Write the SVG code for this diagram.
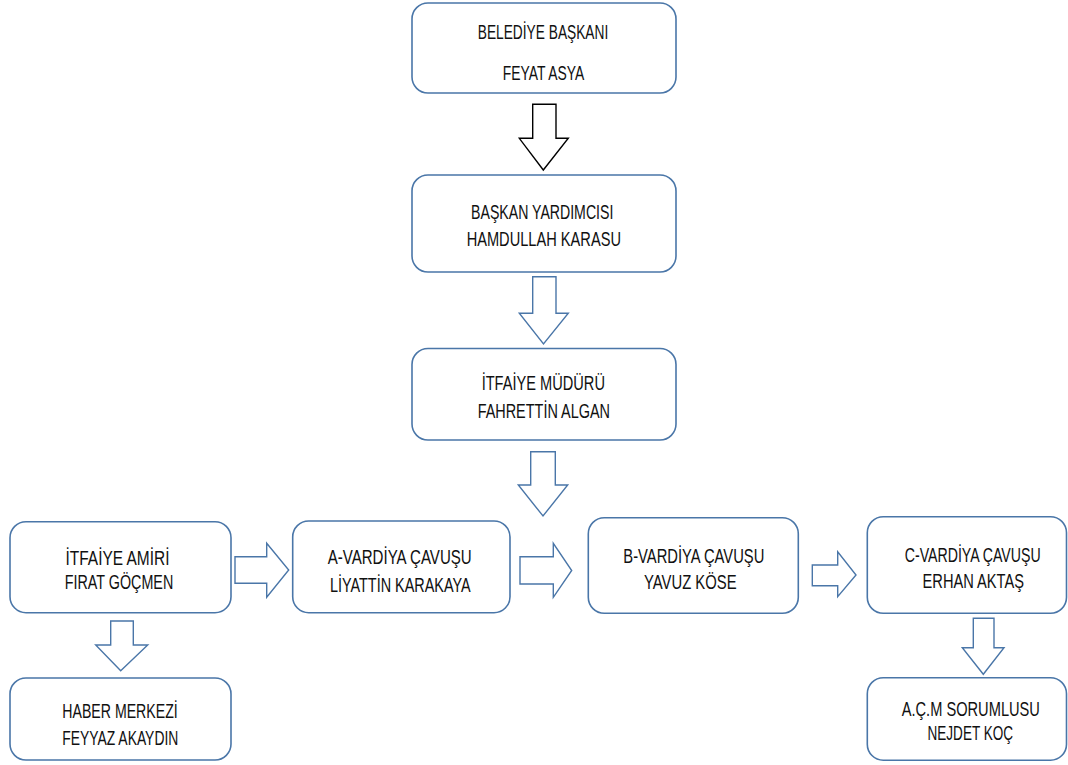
<svg xmlns="http://www.w3.org/2000/svg" width="1068" height="765" viewBox="0 0 1068 765">
  <style>
    .box { fill: #ffffff; stroke: #4a76a8; stroke-width: 1.6; }
    .arrow { fill: #ffffff; stroke: #4a76a8; stroke-width: 1.4; stroke-linejoin: miter; }
    .arrow-dark { fill: #ffffff; stroke: #000000; stroke-width: 1.4; stroke-linejoin: miter; }
    .label { font-family: "Liberation Sans", Arial, sans-serif; font-size: 19.5px; fill: #111111; text-anchor: middle; }
  </style>
  <rect width="1068" height="765" fill="#ffffff"/>

  <!-- connectors: block arrows -->
  <g id="connectors">
    <polygon class="arrow-dark" points="532.7,104.3 556,104.3 556,138.3 568.3,138.3 543.3,170 519.3,138.3 532.7,138.3"/>
    <polygon class="arrow" points="532.7,276.7 556,276.7 556,313.3 568.3,313.3 543.5,344 519.3,313.3 532.7,313.3"/>
    <polygon class="arrow" points="530.7,451.7 555.3,451.7 555.3,485 567.7,485 543,516 518.3,485 530.7,485"/>
    <polygon class="arrow" points="235,556.7 266.7,556.7 266.7,543.3 288.7,570 266.7,597.3 266.7,583.3 235,583.3"/>
    <polygon class="arrow" points="520,556.7 553.3,556.7 553.3,543.3 571.7,570.5 553.3,597.3 553.3,584 520,584"/>
    <polygon class="arrow" points="812.3,565 837.7,565 837.7,551.7 856,575 837.7,596.7 837.7,585.7 812.3,585.7"/>
    <polygon class="arrow" points="110.7,621 133.3,621 133.3,645 147.7,645 120.7,670.7 95.7,645 110.7,645"/>
    <polygon class="arrow" points="973.3,618.3 994,618.3 994,647.7 1004,647.7 983.3,674.3 962.3,647.7 973.3,647.7"/>
  </g>

  <g id="belediye-baskani">
    <rect class="box" x="412" y="3" width="264" height="90" rx="16"/>
    <text class="label" x="543" y="38.5" textLength="130.5" lengthAdjust="spacingAndGlyphs">BELEDİYE BAŞKANI</text>
    <text class="label" x="543.5" y="80" textLength="81.5" lengthAdjust="spacingAndGlyphs">FEYAT ASYA</text>
  </g>

  <g id="baskan-yardimcisi">
    <rect class="box" x="412" y="175" width="264" height="97" rx="16"/>
    <text class="label" x="542.2" y="219.3" textLength="142.3" lengthAdjust="spacingAndGlyphs">BAŞKAN YARDIMCISI</text>
    <text class="label" x="543.8" y="245.5" textLength="154.3" lengthAdjust="spacingAndGlyphs">HAMDULLAH KARASU</text>
  </g>

  <g id="itfaiye-muduru">
    <rect class="box" x="412" y="348.5" width="264" height="91.5" rx="16"/>
    <text class="label" x="543.3" y="390.3" textLength="123.3" lengthAdjust="spacingAndGlyphs">İTFAİYE MÜDÜRÜ</text>
    <text class="label" x="543.8" y="417.5" textLength="132.3" lengthAdjust="spacingAndGlyphs">FAHRETTİN ALGAN</text>
  </g>

  <g id="itfaiye-amiri">
    <rect class="box" x="10" y="521.7" width="221" height="91" rx="16"/>
    <text class="label" x="117.5" y="565" textLength="104" lengthAdjust="spacingAndGlyphs">İTFAİYE AMİRİ</text>
    <text class="label" x="119" y="589" textLength="108.5" lengthAdjust="spacingAndGlyphs">FIRAT GÖÇMEN</text>
  </g>

  <g id="haber-merkezi">
    <rect class="box" x="10" y="678" width="221" height="82" rx="16"/>
    <text class="label" x="120" y="718" textLength="115.4" lengthAdjust="spacingAndGlyphs">HABER MERKEZİ</text>
    <text class="label" x="120.3" y="744.5" textLength="116" lengthAdjust="spacingAndGlyphs">FEYYAZ AKAYDIN</text>
  </g>

  <g id="a-vardiya">
    <rect class="box" x="292.7" y="521" width="217.3" height="91.7" rx="16"/>
    <text class="label" x="399.7" y="564" textLength="144" lengthAdjust="spacingAndGlyphs">A-VARDİYA ÇAVUŞU</text>
    <text class="label" x="400.3" y="591.5" textLength="140.7" lengthAdjust="spacingAndGlyphs">LİYATTİN KARAKAYA</text>
  </g>

  <g id="b-vardiya">
    <rect class="box" x="588.3" y="517.7" width="210" height="95.6" rx="16"/>
    <text class="label" x="693.8" y="562.5" textLength="141" lengthAdjust="spacingAndGlyphs">B-VARDİYA ÇAVUŞU</text>
    <text class="label" x="690.3" y="588.5" textLength="92.7" lengthAdjust="spacingAndGlyphs">YAVUZ KÖSE</text>
  </g>

  <!-- right-hand column runs up to the page edge; labels narrowed by a horizontal scale -->
  <g id="c-vardiya">
    <rect class="box" x="867.3" y="516.7" width="199.2" height="96.6" rx="16"/>
    <text class="label" transform="matrix(0.726,0,0,1,972.7,561.5)">C-VARDİYA ÇAVUŞU</text>
    <text class="label" transform="matrix(0.751,0,0,1,973.3,587.5)">ERHAN AKTAŞ</text>
  </g>

  <g id="acm-sorumlusu">
    <rect class="box" x="867.3" y="677.7" width="199.2" height="82.5" rx="16"/>
    <text class="label" transform="matrix(0.751,0,0,1,970.8,716)">A.Ç.M SORUMLUSU</text>
    <text class="label" transform="matrix(0.696,0,0,1,970.3,740)">NEJDET KOÇ</text>
  </g>
</svg>
